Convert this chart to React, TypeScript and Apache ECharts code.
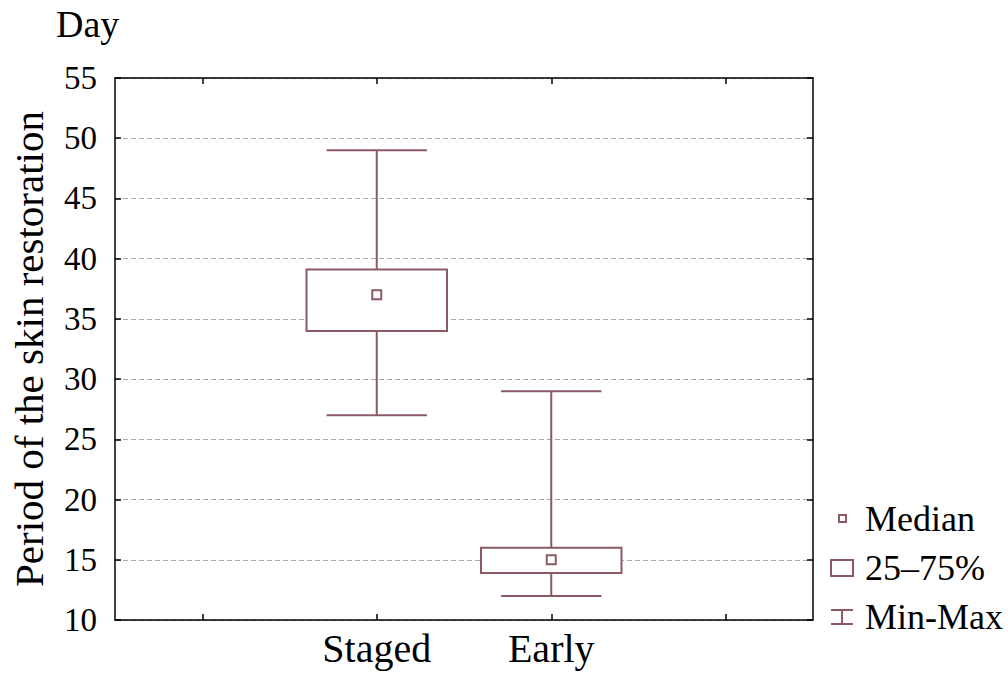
import React, { useEffect, useRef } from "react";
import * as echarts from "echarts";

const categories = ["", "Staged", "Early", ""];
const groupIndex = [1, 2];
const minValues = [27, 12];
const q1Values = [34, 13.9];
const medianValues = [37, 15];
const q3Values = [39.1, 16];
const maxValues = [49, 29];
const yTicks = { min: 10, max: 55, interval: 5 };

const COLOR = "#8c5a62";
const FONT = "Liberation Serif";

export default function App() {
  const ref = useRef<HTMLDivElement>(null);
  useEffect(() => {
    if (!ref.current) return;
    const chart = echarts.init(ref.current, null, { renderer: "svg" });

    const whiskerData = groupIndex.map((x, i) => [x, minValues[i], maxValues[i]]);
    const boxData = groupIndex.map((x, i) => [x, q1Values[i], q3Values[i]]);
    const medianData = groupIndex.map((x, i) => [x, medianValues[i]]);

    const axisCommon = {
      axisLine: { show: true, lineStyle: { color: "#000", width: 1.5 } },
      axisTick: { show: true, inside: true, length: 6, lineStyle: { color: "#000", width: 1.5 } },
    };

    chart.setOption({
      animation: false,
      backgroundColor: "#fff",
      title: {
        text: "Day",
        left: 56,
        top: 4,
        padding: 0,
        textStyle: { fontFamily: FONT, fontSize: 38, fontWeight: "normal", color: "#000", lineHeight: 40 },
      },
      grid: { left: 108, right: 195, top: 78, bottom: 59, containLabel: false },
      legend: {
        orient: "vertical",
        left: 829,
        top: 501,
        padding: 0,
        itemWidth: 30,
        itemHeight: 18,
        itemGap: 13,
        selectedMode: false,
        textStyle: { fontFamily: FONT, fontSize: 36, color: "#000", lineHeight: 34 },
        data: [
          {
            name: "Median",
            icon: "path://M0,0M30,18M9,5h7v7h-7z",
            itemStyle: { color: "#fff", borderColor: COLOR, borderWidth: 2 },
          },
          {
            name: "25–75%",
            icon: "path://M0,0M30,18M1,1h22v16h-22z",
            itemStyle: { color: "#fff", borderColor: COLOR, borderWidth: 2 },
          },
          {
            name: "Min-Max",
            icon: "path://M0,0M30,18M1,2h22M12,2v14M1,16h22",
            itemStyle: { color: "#fff", borderColor: COLOR, borderWidth: 2 },
          },
        ],
      },
      xAxis: [
        {
          type: "category",
          data: categories,
          boundaryGap: true,
          position: "bottom",
          ...axisCommon,
          axisTick: { ...axisCommon.axisTick, alignWithLabel: true, interval: 0 },
          axisLabel: { interval: 0, fontFamily: FONT, fontSize: 40, color: "#000", margin: 8 },
          splitLine: { show: false },
        },
        {
          type: "category",
          data: categories,
          boundaryGap: true,
          position: "top",
          ...axisCommon,
          axisTick: { ...axisCommon.axisTick, alignWithLabel: true, interval: 0 },
          axisLabel: { show: false },
          splitLine: { show: false },
        },
      ],
      yAxis: [
        {
          type: "value",
          position: "left",
          ...yTicks,
          name: "Period of the skin restoration",
          nameLocation: "middle",
          nameGap: 66,
          nameTextStyle: { fontFamily: FONT, fontSize: 41, color: "#000" },
          ...axisCommon,
          axisLabel: { fontFamily: FONT, fontSize: 33, color: "#000", margin: 18 },
          splitLine: { show: true, lineStyle: { color: "#a8a8a8", type: [5, 3], width: 1 } },
        },
        {
          type: "value",
          position: "right",
          ...yTicks,
          ...axisCommon,
          axisLabel: { show: false },
          splitLine: { show: false },
        },
      ],
      series: [
        {
          name: "Min-Max",
          type: "custom",
          data: whiskerData,
          encode: { x: 0, y: [1, 2] },
          z: 2,
          renderItem: (params: any, api: any) => {
            const x = api.value(0);
            const lo = api.coord([x, api.value(1)]);
            const hi = api.coord([x, api.value(2)]);
            const w = (api.size([1, 0])[0] * 0.575) / 2;
            const style = { stroke: COLOR, lineWidth: 2 };
            return {
              type: "group",
              children: [
                { type: "line", shape: { x1: lo[0], y1: lo[1], x2: hi[0], y2: hi[1] }, style },
                { type: "line", shape: { x1: lo[0] - w, y1: lo[1], x2: lo[0] + w, y2: lo[1] }, style },
                { type: "line", shape: { x1: hi[0] - w, y1: hi[1], x2: hi[0] + w, y2: hi[1] }, style },
              ],
            };
          },
        },
        {
          name: "25–75%",
          type: "custom",
          data: boxData,
          encode: { x: 0, y: [1, 2] },
          z: 3,
          renderItem: (params: any, api: any) => {
            const x = api.value(0);
            const lo = api.coord([x, api.value(1)]);
            const hi = api.coord([x, api.value(2)]);
            const w = (api.size([1, 0])[0] * 0.805) / 2;
            return {
              type: "rect",
              shape: { x: lo[0] - w, y: hi[1], width: 2 * w, height: lo[1] - hi[1] },
              style: { fill: "#fff", stroke: COLOR, lineWidth: 2 },
            };
          },
        },
        {
          name: "Median",
          type: "custom",
          data: medianData,
          encode: { x: 0, y: 1 },
          z: 4,
          renderItem: (params: any, api: any) => {
            const p = api.coord([api.value(0), api.value(1)]);
            const s = 9;
            return {
              type: "rect",
              shape: { x: p[0] - s / 2, y: p[1] - s / 2, width: s, height: s },
              style: { fill: "#fff", stroke: COLOR, lineWidth: 2 },
            };
          },
        },
      ],
    });
    return () => chart.dispose();
  }, []);
  return (
    <div
      ref={ref}
      style={{ position: "absolute", left: 0, top: 0, width: 1008, height: 679 }}
    />
  );
}
